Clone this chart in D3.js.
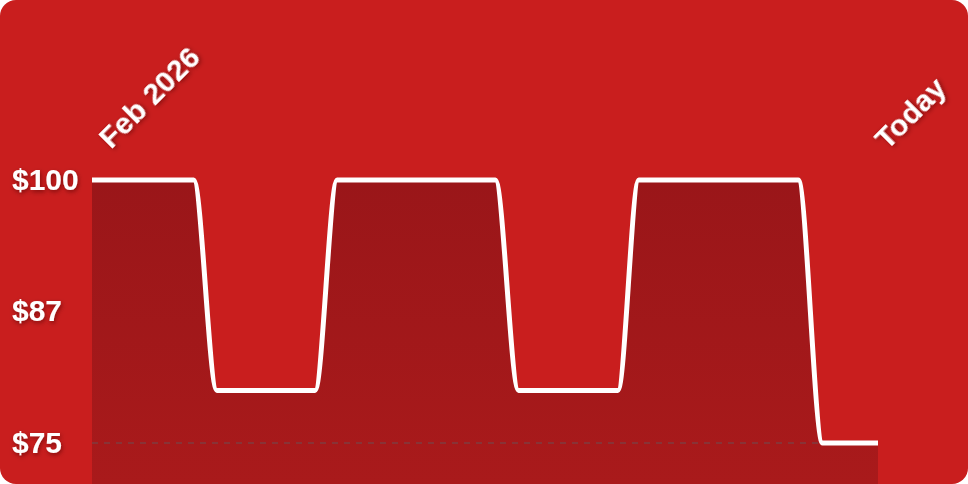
<!DOCTYPE html>
<html>
<head>
<meta charset="utf-8">
<script src="https://cdn.jsdelivr.net/npm/d3@7"></script>
<style>
  html, body { margin: 0; padding: 0; background: #ffffff; }
  #chart { width: 968px; height: 484px; }
  text { font-family: "Liberation Sans", Arial, sans-serif; font-weight: bold; fill: #ffffff; }
</style>
</head>
<body>
<div id="chart"></div>
<script>
"use strict";

// days since start of Feb 2026 (x) and price in $ (y)
let days   = [0, 4.4, 5.4, 9.65, 10.6, 17.45, 18.45, 22.75, 23.65, 30.55, 31.6, 34];
let prices = [100, 100, 80, 80, 100, 100, 80, 80, 100, 100, 75, 75];

let tickValues = [100, 87.5, 75];
let tickLabels = ["$100", "$87", "$75"];

let startLabel = "Feb 2026";
let endLabel = "Today";

let data = days.map(function(d, i){
  return {day: d, price: prices[i]};
});

let width = 968, height = 484;

let svg = d3.select("#chart")
.append("svg")
.attr("width", width)
.attr("height", height);

let defs = svg.append("defs");

defs.append("clipPath")
.attr("id", "card")
.append("rect")
.attr("width", width)
.attr("height", height)
.attr("rx", 16);

let grad = defs.append("linearGradient")
.attr("id", "areaFill")
.attr("x1", 0).attr("y1", 0)
.attr("x2", 0).attr("y2", 1);
grad.append("stop").attr("offset", "0%").attr("stop-color", "#9a1619");
grad.append("stop").attr("offset", "100%").attr("stop-color", "#a91a1b");

let shadow = defs.append("filter")
.attr("id", "shadow")
.attr("x", "-20%").attr("y", "-20%")
.attr("width", "140%").attr("height", "140%");
shadow.append("feDropShadow")
.attr("dx", 1)
.attr("dy", 2)
.attr("stdDeviation", 2)
.attr("flood-color", "#4a0000")
.attr("flood-opacity", 0.55);

let g = svg.append("g").attr("clip-path", "url(#card)");

// card background
g.append("rect")
.attr("width", width)
.attr("height", height)
.attr("fill", "#c91e1e");

// scales
let xScale = d3.scaleLinear()
.domain([0, 34])
.range([92, 878]);

let yScale = d3.scaleLinear()
.domain([75, 100])
.range([443, 180]);

// area under the line
let area = d3.area()
.x(function(d){ return xScale(d.day); })
.y0(height)
.y1(function(d){ return yScale(d.price); })
.curve(d3.curveMonotoneX);

g.append("path")
.datum(data)
.attr("d", area)
.attr("fill", "url(#areaFill)");

// dashed baseline at the lowest tick
g.append("line")
.attr("x1", xScale(0))
.attr("x2", xScale(34))
.attr("y1", yScale(75))
.attr("y2", yScale(75))
.attr("stroke", "#803c40")
.attr("stroke-width", 1.5)
.attr("stroke-dasharray", "6,6");

// price line
let line = d3.line()
.x(function(d){ return xScale(d.day); })
.y(function(d){ return yScale(d.price); })
.curve(d3.curveMonotoneX);

g.append("path")
.datum(data)
.attr("d", line)
.attr("fill", "none")
.attr("stroke", "#ffffff")
.attr("stroke-width", 5)
.attr("stroke-linejoin", "round")
.attr("stroke-linecap", "butt");

// y labels
for(let i=0;i<tickValues.length;i=i+1){
  g.append("text")
  .attr("x", 12)
  .attr("y", yScale(tickValues[i]) - 1)
  .attr("dy", "0.35em")
  .attr("font-size", 30)
  .attr("filter", "url(#shadow)")
  .text(tickLabels[i]);
}

// rotated date labels
g.append("text")
.attr("transform", "translate(" + (xScale(0) + 19) + ",150) rotate(-45)")
.attr("font-size", 30)
.attr("filter", "url(#shadow)")
.text(startLabel);

g.append("text")
.attr("transform", "translate(" + (xScale(34) + 9) + ",151) rotate(-45)")
.attr("font-size", 30)
.attr("filter", "url(#shadow)")
.text(endLabel);
</script>
</body>
</html>
